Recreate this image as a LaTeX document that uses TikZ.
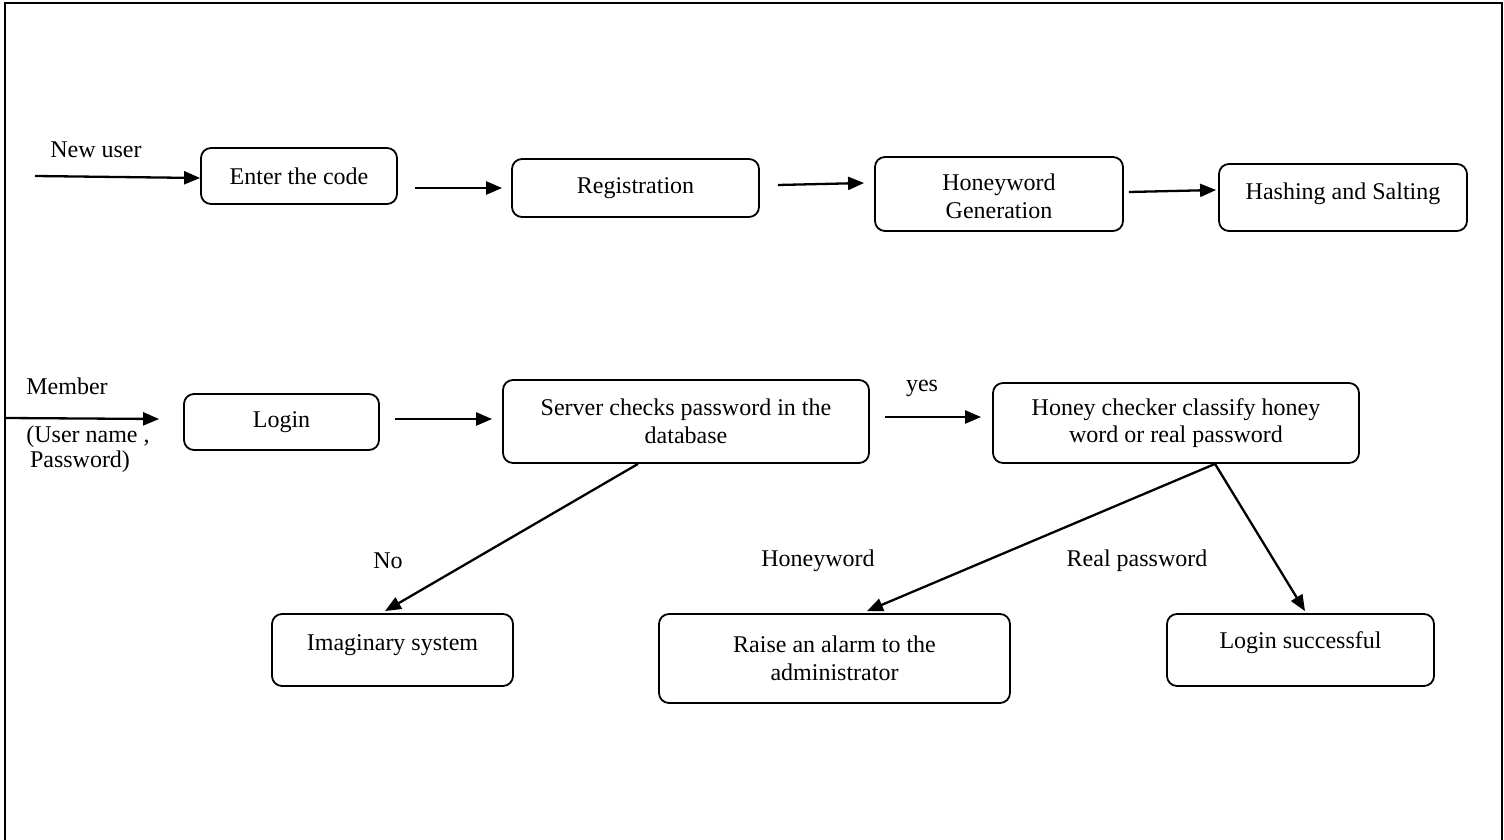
\documentclass[tikz,border=0pt]{standalone}
\usepackage{fontspec}
\setmainfont{Liberation Serif}
\usetikzlibrary{arrows.meta,calc}
\tikzset{
  box/.style={draw, line width=1.8pt, rounded corners=10pt, align=center, inner sep=0pt},
  arr/.style={line width=2.3pt, -{Triangle[length=16pt,width=13pt]}},
  lbl/.style={inner sep=0pt},
  frame/.style={line width=2pt}
}
\begin{document}
\begin{tikzpicture}[x=1pt,y=-1pt,font=\fontsize{24}{27.5}\selectfont]
\useasboundingbox (0,0) rectangle (1504,840);
\draw[frame] (5,841) -- (5,3) -- (1502,3) -- (1502,841);

% top row
\node[box, minimum width=196pt, minimum height=56pt] (enter) at (299,176) {Enter the code};
\node[box, minimum width=247pt, minimum height=58pt] (reg) at (635.5,188) {Registration};
\node[box, minimum width=248pt, minimum height=74pt] (honey) at (999,194) {\\[-6pt]Honeyword\\Generation};
\node[box, minimum width=248pt, minimum height=67pt, text height=16.4pt, text depth=13.4pt] (hash) at (1343,197.5) {Hashing and Salting};

% second row
\node[box, minimum width=195pt, minimum height=56pt] (login) at (281.5,422) {Login};
\node[box, minimum width=366pt, minimum height=83pt] (server) at (686,421.5) {Server checks password in the\\database};
\node[box, minimum width=366pt, minimum height=80pt] (check) at (1176,423) {Honey checker classify honey\\word or real password};

% bottom row
\node[box, minimum width=241pt, minimum height=72pt, text height=16.4pt, text depth=16.4pt] (imag) at (392.5,650) {Imaginary system};
\node[box, minimum width=351pt, minimum height=89pt] (raise) at (834.5,658.5) {Raise an alarm to the\\administrator};
\node[box, minimum width=267pt, minimum height=72pt, text height=16.4pt, text depth=20.4pt] (succ) at (1300.5,650) {Login successful};

% labels
\node[lbl] (lnew) at (96,150) {New user};
\node[lbl] (lmem) at (67,386) {Member};
\node[lbl] (luser) at (88,437) {(User name ,};
\node[lbl] (lpass) at (80,462) {Password)};
\node[lbl] (lyes) at (922,388) {yes};
\node[lbl] (lno) at (388,561) {No};
\node[lbl] (lhw) at (818,561) {Honeyword};
\node[lbl] (lreal) at (1137,561) {Real password};

% free ends
\coordinate (nu) at (35,176);
\coordinate (mem) at (6,418);

% connectors
\draw[arr] (nu) -- ([yshift=-2pt]enter.west);
\draw[arr] ($(enter.east|-reg.west)+(17,0)$) -- ($(reg.west)+(-9,0)$);
\draw[arr] ($(reg.east)+(18,-3)$) -- ($(honey.west)+(-10,-11)$);
\draw[arr] ($(honey.east)+(5,-2)$) -- ($(hash.west)+(-2,-7.5)$);
\draw[arr] (mem) -- ($(login.west)+(-24,-3)$);
\draw[arr] ($(login.east)+(15,-3)$) -- ($(server.west)+(-10,-2.5)$);
\draw[arr] ($(server.east)+(15,-4.5)$) -- ($(check.west)+(-11,-6)$);
\draw[arr] ($(server.south)+(-48,0)$) -- ($(imag.north)+(-7.5,-2)$);
\draw[arr] ($(check.south)+(39,0)$) -- ($(raise.north)+(32.5,-2)$);
\draw[arr] ($(check.south)+(39,0)$) -- ($(succ.north)+(4.5,-2)$);
\end{tikzpicture}
\end{document}
